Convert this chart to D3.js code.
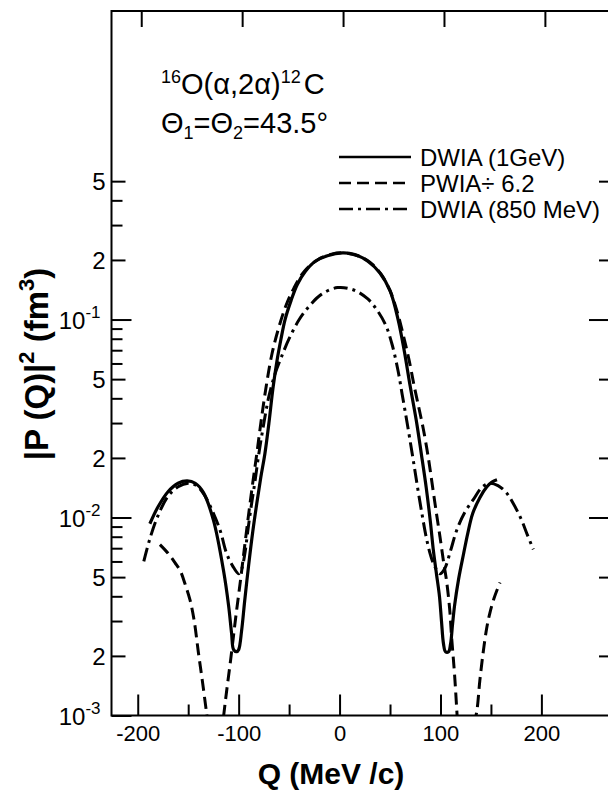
<!DOCTYPE html>
<html><head><meta charset="utf-8">
<script src="https://cdn.jsdelivr.net/npm/d3@7"></script>
<style>body{margin:0;background:#fff} svg{display:block}</style>
</head><body>
<svg id="c" width="608" height="791"></svg>
<script>
// ---------- data ----------
const qMajorTicks = [-200, -100, 0, 100, 200];
const qMinorTicks = [-150, -50, 50, 150];
const qTickLabels = ["-200", "-100", "0", "100", "200"];
const yDecadeTicks = [0.001, 0.01, 0.1];
const yDecadeLabels = ["-3", "-2", "-1"];
const yMidTicks = [0.002, 0.005, 0.02, 0.05, 0.2, 0.5];
const yMidLabels = ["2", "5", "2", "5", "2", "5"];
const yMinorTicks = [0.003, 0.004, 0.006, 0.007, 0.008, 0.009, 0.03, 0.04, 0.06, 0.07, 0.08, 0.09, 0.3, 0.4];
const yRightTicks = [0.002, 0.005, 0.01, 0.02, 0.05, 0.1, 0.2, 0.5];
const seriesNames = ["DWIA (1GeV)", "PWIA\u00f7 6.2", "DWIA (850 MeV)"];

// DWIA (1 GeV) – solid
const dwia1Q = [-188,-180,-170,-160,-151,-143,-135,-125,-115,-110,-107,-105,-102,-100,-97,-94,-90,-86,-82,-78,-74,-70,-66,-62,-58,-54,-48,-42,-34,-24,-12,3,15,28,40,50,58,64,70,76,81,86,90,93,96,99,101,103,105,108,110,112,114,118,123,127,132,139,146,151,156];
const dwia1V = [0.0093,0.0113,0.0135,0.0149,0.0153,0.0149,0.0134,0.0097,0.0054,0.0036,0.0026,0.00215,0.0021,0.00215,0.0027,0.0038,0.0058,0.0085,0.0118,0.016,0.021,0.03,0.045,0.062,0.08,0.1,0.125,0.15,0.175,0.197,0.21,0.217,0.213,0.197,0.172,0.14,0.1,0.07,0.046,0.031,0.021,0.014,0.0095,0.0068,0.0052,0.004,0.003,0.0023,0.0021,0.0021,0.0023,0.0029,0.0036,0.0049,0.0066,0.0083,0.0105,0.0126,0.0143,0.0151,0.0155];

// PWIA / 6.2 – dashed (null = break at the zeros)
const pwiaQ = [-178,-170,-163,-158,-153,-148,-144,-140,-136,-132,-129, null, -117,-113,-108,-103,-98,-94,-90,-86,-82,-78,-73,-67,-60,-53,-45,-35,-22,-8,5,18,30,41,50,57,63,69,74,79,83,88,92,96,99.5,103,106,109,111,114,117, null, 133,136,139,142.4,146,149,153,159];
const pwiaV = [0.0073,0.0066,0.0059,0.0054,0.0046,0.0038,0.003,0.0021,0.0015,0.00105,0.0008, null, 0.0008,0.0012,0.0019,0.0031,0.0049,0.0072,0.0105,0.015,0.021,0.03,0.045,0.067,0.092,0.118,0.145,0.175,0.2,0.214,0.217,0.21,0.195,0.17,0.14,0.11,0.084,0.062,0.046,0.035,0.028,0.02,0.0145,0.0105,0.008,0.006,0.0048,0.0035,0.0025,0.0016,0.0009, null, 0.0009,0.00105,0.0015,0.0021,0.0028,0.0033,0.0039,0.0047];

// DWIA (850 MeV) – dash-dot
const dwia850Q = [-194,-188,-180,-170,-160,-150,-142,-134,-125,-118,-112,-106,-100,-97,-94,-91,-88,-84,-80,-75,-70,-64,-58,-50,-40,-30,-18,-2,14,28,38,46,52,58,62,66.5,72,77,82,86,90,94,99.5,104,110,116,124,132.5,141,149,157,165,172,180,186,192];
const dwia850V = [0.006,0.0078,0.0102,0.0128,0.0143,0.0149,0.0145,0.013,0.0105,0.0085,0.0066,0.0057,0.0052,0.0055,0.0065,0.0085,0.011,0.015,0.021,0.03,0.041,0.053,0.064,0.08,0.1,0.117,0.134,0.145,0.141,0.127,0.11,0.093,0.075,0.055,0.042,0.031,0.021,0.0145,0.0102,0.0079,0.0065,0.0057,0.0052,0.0055,0.0068,0.0086,0.0106,0.0123,0.0142,0.0149,0.0145,0.0134,0.0118,0.0098,0.0082,0.0069];

// ---------- layout ----------
const svg = d3.select("#c");
const FONT = "'Liberation Sans', Arial, sans-serif";
const x = d3.scaleLinear().domain([-226, 267]).range([111.5, 609]);
const y = d3.scaleLog().domain([0.001, 3.66]).range([715.5, 10]);
const X0 = x.range()[0], X1 = x.range()[1], Y0 = y.range()[0], Y1 = y.range()[1];

svg.append("defs").append("clipPath").attr("id", "clip")
  .append("rect").attr("x", X0).attr("y", Y1).attr("width", X1 - X0).attr("height", Y0 - Y1);

// frame
svg.append("rect").attr("x", X0).attr("y", Y1 + 1).attr("width", X1 - X0).attr("height", Y0 - Y1 - 1)
  .attr("fill", "none").attr("stroke", "#000").attr("stroke-width", 2);

function styleAxis(g) {
  g.select(".domain").remove();
  g.selectAll(".tick line").attr("stroke", "#000").attr("stroke-width", 2);
  g.selectAll("text").attr("font-family", FONT).attr("fill", "#000");
}

// bottom axis: major (labelled) and minor ticks, drawn inward
svg.append("g").attr("transform", `translate(0,${Y0})`)
  .call(d3.axisBottom(x).tickValues(qMajorTicks).tickSize(-21).tickPadding(10)
    .tickFormat((d, i) => qTickLabels[i]))
  .call(styleAxis)
  .call(g => g.selectAll("text").attr("font-size", 22));
svg.append("g").attr("transform", `translate(0,${Y0})`)
  .call(d3.axisBottom(x).tickValues(qMinorTicks).tickSize(-11).tickFormat(""))
  .call(styleAxis);
// top axis ticks (the scan is slightly skewed: top ticks sit a few px right)
svg.append("g").attr("transform", `translate(3.5,${Y1 + 1})`)
  .call(d3.axisTop(x).tickValues(qMajorTicks).tickSize(-16).tickFormat(""))
  .call(styleAxis);

// left axis
svg.append("g").attr("transform", `translate(${X0},0)`)
  .call(d3.axisLeft(y).tickValues(yDecadeTicks).tickSize(-20).tickFormat(""))
  .call(styleAxis);
svg.append("g").attr("transform", `translate(${X0},0)`)
  .call(d3.axisLeft(y).tickValues(yMidTicks).tickSize(-14).tickFormat(""))
  .call(styleAxis);
svg.append("g").attr("transform", `translate(${X0},0)`)
  .call(d3.axisLeft(y).tickValues(yMinorTicks).tickSize(-11).tickFormat(""))
  .call(styleAxis);
// right axis ticks
svg.append("g").attr("transform", `translate(${X1},0)`)
  .call(d3.axisRight(y).tickValues(yRightTicks).tickSize(-10).tickFormat(""))
  .call(styleAxis)
  .call(g => g.selectAll(".tick").filter(d => yDecadeTicks.includes(d)).select("line").attr("x2", -20));

// left tick labels
const labX = X0 - 6;
yMidTicks.forEach((v, i) => {
  svg.append("text").attr("x", labX).attr("y", y(v)).attr("dy", "0.36em")
    .attr("text-anchor", "end").attr("font-family", FONT).attr("font-size", 24).text(yMidLabels[i]);
});
yDecadeTicks.forEach((v, i) => {
  const t = svg.append("text").attr("x", labX - 5).attr("y", y(v) + 9)
    .attr("text-anchor", "end").attr("font-family", FONT).attr("font-size", 24);
  t.append("tspan").text("10");
  t.append("tspan").attr("font-size", 17).attr("dy", -11).text(yDecadeLabels[i]);
});

// curves
const line = d3.line().defined((d) => d[1] !== null).x(d => x(d[0])).y(d => y(d[1])).curve(d3.curveCatmullRom.alpha(0.5));
const zip = (a, b) => a.map((q, i) => [q, b[i]]);
const plot = svg.append("g").attr("clip-path", "url(#clip)");
plot.append("path").datum(zip(dwia1Q, dwia1V)).attr("d", line)
  .attr("fill", "none").attr("stroke", "#000").attr("stroke-width", 3.2);
plot.append("path").datum(zip(pwiaQ, pwiaV)).attr("d", line)
  .attr("fill", "none").attr("stroke", "#000").attr("stroke-width", 3).attr("stroke-dasharray", "12,6");
plot.append("path").datum(zip(dwia850Q, dwia850V)).attr("d", line)
  .attr("fill", "none").attr("stroke", "#000").attr("stroke-width", 3).attr("stroke-dasharray", "14,5,3,5");

// legend
const legY = [157, 183, 209];
const legDash = [null, "12,6", "14,5,3,5"];
seriesNames.forEach((name, i) => {
  svg.append("line").attr("x1", 339).attr("x2", 411).attr("y1", legY[i]).attr("y2", legY[i])
    .attr("stroke", "#000").attr("stroke-width", 2.5).attr("stroke-dasharray", legDash[i]);
  svg.append("text").attr("x", 420).attr("y", legY[i]).attr("dy", "0.36em")
    .attr("font-family", FONT).attr("font-size", 24).text(name);
});

// annotation
const a1 = svg.append("text").attr("x", 161).attr("y", 94).attr("font-family", FONT).attr("font-size", 29);
a1.append("tspan").attr("font-size", 18).attr("dy", -11).text("16");
a1.append("tspan").attr("dy", 11).text("O(\u03b1,2\u03b1)");
a1.append("tspan").attr("font-size", 18).attr("dy", -11).text("12");
a1.append("tspan").attr("dx", 3).attr("dy", 11).text("C");
const a2 = svg.append("text").attr("x", 161).attr("y", 133).attr("font-family", FONT).attr("font-size", 29);
a2.append("tspan").text("\u0398");
a2.append("tspan").attr("font-size", 18).attr("dy", 6).text("1");
a2.append("tspan").attr("dy", -6).text("=\u0398");
a2.append("tspan").attr("font-size", 18).attr("dy", 6).text("2");
a2.append("tspan").attr("dy", -6).text("=43.5\u00b0");

// axis titles
svg.append("text").attr("x", 331).attr("y", 784).attr("text-anchor", "middle")
  .attr("font-family", FONT).attr("font-size", 30).attr("font-weight", "bold").text("Q (MeV /c)");
const yt = svg.append("text").attr("transform", "translate(48,364) rotate(-90)").attr("text-anchor", "middle")
  .attr("font-family", FONT).attr("font-size", 33).attr("font-weight", "bold");
yt.append("tspan").text("|P (Q)|");
yt.append("tspan").attr("font-size", 22).attr("dy", -14).text("2");
yt.append("tspan").attr("dy", 14).text(" (fm");
yt.append("tspan").attr("font-size", 22).attr("dy", -14).text("3");
yt.append("tspan").attr("dy", 14).text(")");
</script>
</body></html>
